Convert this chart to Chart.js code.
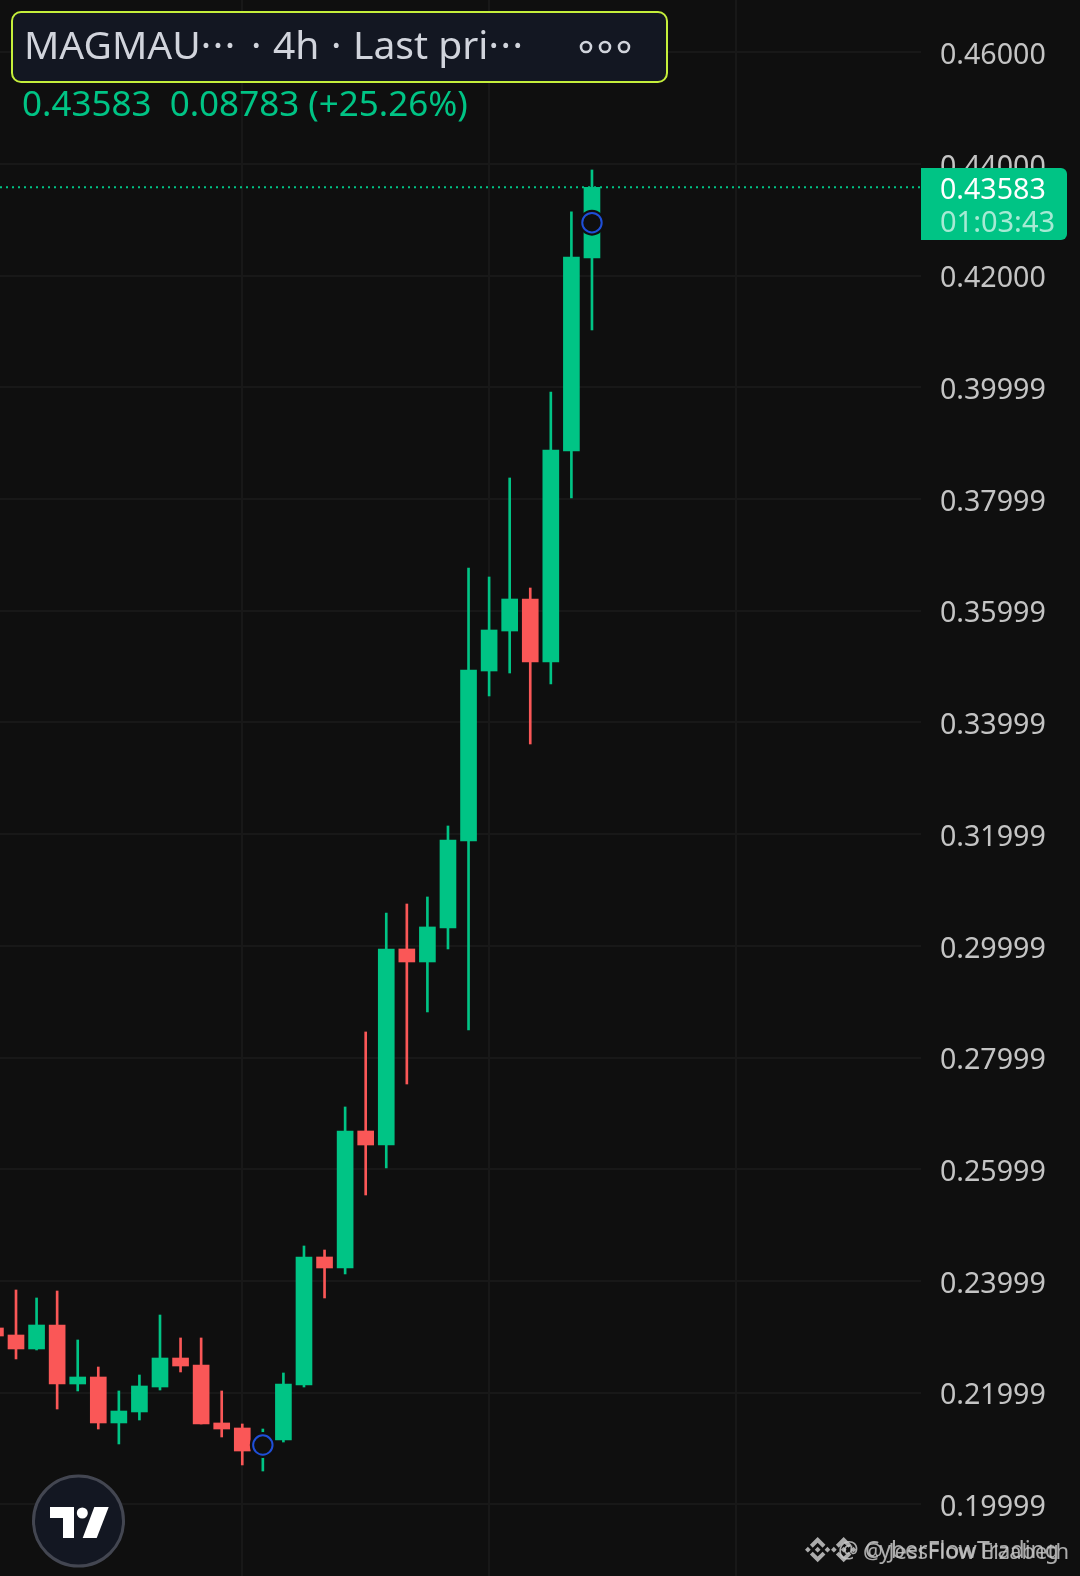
<!DOCTYPE html>
<html>
<head>
<meta charset="utf-8">
<script src="https://cdn.jsdelivr.net/npm/chart.js@4/dist/chart.umd.min.js"></script>
<style>
html,body{margin:0;padding:0;background:#0f0f0f;}
#wrap{position:relative;width:1080px;height:1576px;overflow:hidden;font-family:"Noto Sans",sans-serif;}
#wrap canvas{position:absolute;left:0;top:0;}
#shapes{position:absolute;left:0;top:0;}
.t{position:absolute;white-space:pre;line-height:1;}
.head{font-size:39px;color:#d1d4dc;top:24px;}
.box{position:absolute;left:921px;top:168px;width:146px;height:72px;background:#00c485;border-radius:0 6px 6px 0;}
.mark{font-size:23px;color:#c8c8c8;top:1538px;opacity:.85;}
</style>
</head>
<body>
<div id="wrap">
  <canvas id="chart1" width="1080" height="1576"></canvas>
  <svg id="shapes" width="1080" height="1576">
    <rect x="12" y="12" width="655" height="70" rx="9" fill="#131722" stroke="#c5ef3b" stroke-width="2"/>
    <circle cx="586" cy="47" r="5" fill="none" stroke="#d1d4dc" stroke-width="2.6"/>
    <circle cx="605" cy="47" r="5" fill="none" stroke="#d1d4dc" stroke-width="2.6"/>
    <circle cx="624" cy="47" r="5" fill="none" stroke="#d1d4dc" stroke-width="2.6"/>
    <circle cx="78.5" cy="1521" r="45" fill="#131722" stroke="#434651" stroke-width="3"/>
    <path d="M50 1507H74V1538H63V1518H50Z" fill="#fff"/>
    <circle cx="82.3" cy="1513" r="5.5" fill="#fff"/>
    <path d="M94.3 1507H108.7L96.7 1538H82.7Z" fill="#fff"/>
    <g fill="#c8c8c8" opacity=".85">
      <path transform="translate(805 1537) scale(.2)" d="m38.73 53.2 24.59-24.58 24.6 24.6 14.3-14.31L63.32 0 24.43 38.9zM0 63.31l14.3-14.31 14.31 14.31-14.31 14.3zm38.73 10.11 24.59 24.59 24.6-24.6 14.31 14.29-38.9 38.91-38.91-38.88v-.03zm59.27-10.11 14.3-14.31 14.31 14.31-14.3 14.3zM77.83 63.3 63.32 48.78 52.59 59.51l-1.24 1.23-2.54 2.54 14.51 14.5 14.51-14.47z"/>
      <path transform="translate(831 1537) scale(.2)" d="m38.73 53.2 24.59-24.58 24.6 24.6 14.3-14.31L63.32 0 24.43 38.9zM0 63.31l14.3-14.31 14.31 14.31-14.31 14.3zm38.73 10.11 24.59 24.59 24.6-24.6 14.31 14.29-38.9 38.91-38.91-38.88v-.03zm59.27-10.11 14.3-14.31 14.31 14.31-14.3 14.3zM77.83 63.3 63.32 48.78 52.59 59.51l-1.24 1.23-2.54 2.54 14.51 14.5 14.51-14.47z"/>
    </g>
  </svg>
  <div class="t head" style="left:24px">MAGMAU<span style="letter-spacing:1.6px">···</span></div>
  <div class="t head" style="left:251px">·</div>
  <div class="t head" style="left:273px">4h</div>
  <div class="t head" style="left:331px">·</div>
  <div class="t head" style="left:353px">Last pri<span style="letter-spacing:1.6px">···</span></div>
  <div class="t" style="left:22px;top:85px;font-size:35px;color:#00c485">0.43583  0.08783 (+25.26%)</div>
  <div class="box"></div>
  <div class="t" style="left:940px;top:174px;font-size:28.6px;color:#fff">0.43583</div>
  <div class="t" style="left:940px;top:206px;font-size:29px;color:rgba(255,255,255,.65)">01:03:43</div>
  <div class="t mark" style="left:838px">@ CyberFlowTrading</div>
  <div class="t mark" style="left:863px;font-size:22px;top:1539px">@ JessFlow Elzabeth</div>
</div>
<script>
// 4h candles. slot 0 is the cut off one at the left edge
const opens  = [0.23159,0.23033,0.22783,0.23212,0.22156,0.22281,0.21458,0.21655,0.22102,0.22621,0.22496,0.21458,0.21368,0.20956,0.21153,0.22138,0.24430,0.24233,0.26686,0.26435,0.29945,0.29712,0.30321,0.31878,0.34922,0.35638,0.36211,0.35083,0.38861,0.42317];
const closes = [0.23015,0.22783,0.23212,0.22156,0.22281,0.21458,0.21672,0.22120,0.22621,0.22478,0.21440,0.21350,0.20956,0.21153,0.22156,0.24430,0.24233,0.26686,0.26435,0.29945,0.29712,0.30339,0.31896,0.34940,0.35656,0.36211,0.35083,0.38879,0.42335,0.43583];
const highs  = [0.23159,0.23839,0.23696,0.23821,0.22944,0.22460,0.22031,0.22317,0.23391,0.22980,0.22980,0.22031,0.21440,0.21350,0.22353,0.24627,0.24555,0.27116,0.28459,0.30589,0.30750,0.30876,0.32147,0.36766,0.36605,0.38378,0.36408,0.39918,0.43141,0.43893];
const lows   = [0.23015,0.22604,0.22765,0.21708,0.22031,0.21350,0.21082,0.21511,0.22048,0.22371,0.21440,0.21207,0.20706,0.20598,0.21117,0.22102,0.23696,0.24126,0.25540,0.26023,0.27527,0.28817,0.29945,0.28494,0.34475,0.34886,0.33615,0.34689,0.38020,0.41028];

const tickValues = [0.46,0.44,0.42,0.40,0.38,0.36,0.34,0.32,0.30,0.28,0.26,0.24,0.22,0.20];
const tickLabels = ["0.46000","0.44000","0.42000","0.39999","0.37999","0.35999","0.33999","0.31999","0.29999","0.27999","0.25999","0.23999","0.21999","0.19999"];
const gridSlots = [12,24,36];

const markerSlots = [13,29];
const markerPrices = [0.21063,0.42949];
const lastPrice = 0.43583;

const green = "#00c485";
const red = "#fa5757";
const bg = "#0f0f0f";
const gridColor = "#181818";

const xMin = 0.222, xMax = 44.996;
const yMin = 0.18718, yMax = 0.46936;

var bodies = [], wicks = [], colors = [], markers = [];
var i;
for(i = 0; i < opens.length; i++)
{
  bodies.push({x:i, y:[opens[i],closes[i]]});
  wicks.push({x:i, y:[lows[i],highs[i]]});
  colors.push(closes[i] >= opens[i] ? green : red);
}
for(i = 0; i < markerSlots.length; i++)
{
  markers.push({x:markerSlots[i], y:markerPrices[i]});
}

var ctx = document.getElementById("chart1").getContext("2d");
var chart1 = new Chart(ctx, {
  type: "bar",
  data: {
    datasets: [
      {type:"line", data:markers, showLine:false, pointRadius:9.7, pointBorderWidth:2, pointBackgroundColor:bg, pointBorderColor:"#1f4fd8", order:0},
      {type:"line", data:markers, showLine:false, pointRadius:13, pointBorderWidth:0, pointBackgroundColor:bg, order:1},
      {data:bodies, backgroundColor:colors, grouped:false, barThickness:16, maxBarThickness:16, borderWidth:0, order:2},
      {data:wicks, backgroundColor:colors, grouped:false, barThickness:2, maxBarThickness:2, borderWidth:0, order:3},
      {type:"line", data:[{x:xMin,y:lastPrice},{x:xMax,y:lastPrice}], borderColor:green, borderWidth:2, borderDash:[2,4], pointRadius:0, order:4}
    ]
  },
  options: {
    responsive: false,
    devicePixelRatio: 1,
    animation: false,
    layout: {padding:0, autoPadding:false},
    plugins: {legend:{display:false}, tooltip:{enabled:false}},
    scales: {
      x: {
        type: "linear",
        min: xMin,
        max: xMax,
        offset: false,
        afterBuildTicks: function(scale){ scale.ticks = gridSlots.map(function(v){ return {value:v}; }); },
        ticks: {display:false},
        grid: {color:gridColor, lineWidth:2, drawTicks:false, offset:false},
        border: {display:false}
      },
      y: {
        position: "right",
        min: yMin,
        max: yMax,
        afterBuildTicks: function(scale){ scale.ticks = tickValues.map(function(v){ return {value:v}; }); },
        afterFit: function(scale){ scale.width = 159; scale.paddingTop = 0; scale.paddingBottom = 0; },
        ticks: {
          autoSkip: false,
          padding: 19,
          labelOffset: 3.5,
          color: "#c4c4c4",
          font: {family:"Noto Sans", size:28.6},
          callback: function(value, index){ return tickLabels[index]; }
        },
        grid: {color:gridColor, lineWidth:2, drawTicks:false},
        border: {display:false}
      }
    }
  }
});
</script>
</body>
</html>
